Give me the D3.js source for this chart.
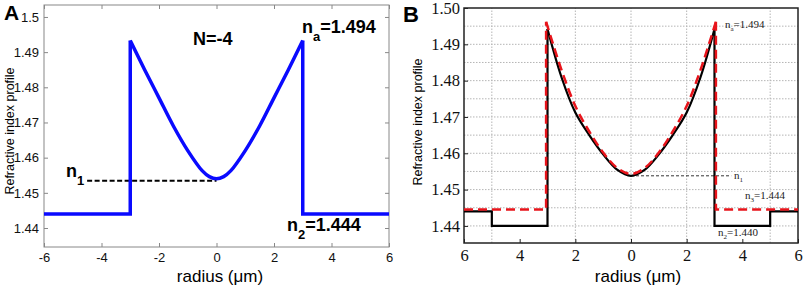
<!DOCTYPE html>
<html>
<head>
<meta charset="utf-8">
<script src="https://cdn.jsdelivr.net/npm/d3@7"></script>
<style>
  body { margin: 0; background: #fff; }
  svg { display: block; }
</style>
</head>
<body>
<svg id="chart" width="803" height="286"></svg>
<script>
// ---- data ----
const radiusTicks = [-6, -4, -2, 0, 2, 4, 6];
const indexTicksA = [1.44, 1.45, 1.46, 1.47, 1.48, 1.49, 1.50];
const indexTicksB = [1.44, 1.45, 1.46, 1.47, 1.48, 1.49, 1.50];
const gridIndexB = [1.44, 1.445, 1.45, 1.455, 1.46, 1.465, 1.47, 1.475, 1.48, 1.485, 1.49, 1.495];
const gridRadiusB = [-5, -2, 0, 2, 5];

// panel A (N=-4), core profile
const coreRadiusA = [-3, -2.5, -2, -1.5, -1, -0.5, -0.25, 0, 0.25, 0.5, 1, 1.5, 2, 2.5, 3];
const coreIndexA = [1.4933, 1.4850, 1.4770, 1.4690, 1.4620, 1.4563, 1.4546, 1.4540, 1.4546, 1.4563, 1.4620, 1.4690, 1.4770, 1.4850, 1.4933];
const cladLeftA = [[-6, 1.444], [-3, 1.444], [-3, 1.4933]];
const cladRightA = [[3, 1.4933], [3, 1.444], [6, 1.444]];
const n1LineA = [[-4.5, 1.4534], [0, 1.4534]];

// panel B, black solid (designed) and red dashed (fitted)
const coreRadius = [-3, -2.5, -2, -1.5, -1, -0.5, 0, 0.5, 1, 1.5, 2, 2.5, 3];
const coreIndexB = [1.4942, 1.4810, 1.4712, 1.4650, 1.4597, 1.4555, 1.4538, 1.4555, 1.4597, 1.4650, 1.4712, 1.4810, 1.4942];
const cladLeftB = [[-6, 1.444], [-5, 1.444], [-5, 1.440], [-3, 1.440], [-3, 1.4942]];
const cladRightB = [[3, 1.4942], [3, 1.440], [5, 1.440], [5, 1.444], [6, 1.444]];
const coreRadiusRed = [-3.05, -2.5, -2, -1.5, -1, -0.5, 0, 0.5, 1, 1.5, 2, 2.5, 3.05];
const coreIndexRed = [1.4962, 1.4830, 1.4730, 1.4660, 1.4602, 1.4560, 1.4543, 1.4560, 1.4602, 1.4660, 1.4730, 1.4830, 1.4962];
const cladLeftRed = [[-6, 1.4445], [-3.05, 1.4445], [-3.05, 1.4962]];
const cladRightRed = [[3.05, 1.4962], [3.05, 1.4445], [6, 1.4445]];
const n1LineB = [[0, 1.4538], [3.6, 1.4538]];

const svg = d3.select('#chart');
const sans = 'Liberation Sans, Arial, sans-serif';
const serif = 'Liberation Serif, Times New Roman, serif';
const smooth = d3.curveCatmullRom.alpha(0.5);

// ================= Panel A =================
const xA = d3.scaleLinear().domain([-6, 6]).range([44, 389]);
const yA = d3.scaleLinear().domain([1.4346, 1.5034]).range([247, 5]);
const gA = svg.append('g');

const lineA = d3.line().x(d => xA(d[0])).y(d => yA(d[1]));
const curveA = d3.line().x(d => xA(d[0])).y(d => yA(d[1])).curve(smooth);
const coreA = coreRadiusA.map((r, i) => [r, coreIndexA[i]]);

function styleAxisA(g) {
  g.select('.domain').remove();
  g.selectAll('line').attr('stroke', '#888');
  g.selectAll('text').attr('fill', '#111').style('font-family', sans).style('font-size', '13px');
}
gA.append('g').attr('transform', `translate(0,${yA.range()[0]})`)
  .call(d3.axisBottom(xA).tickValues(radiusTicks).tickSize(-4).tickPadding(6).tickFormat(d => String(d)))
  .call(styleAxisA);
gA.append('g').attr('transform', `translate(0,${yA.range()[1]})`)
  .call(d3.axisTop(xA).tickValues(radiusTicks).tickSize(-4).tickFormat(''))
  .call(styleAxisA);
gA.append('g').attr('transform', `translate(${xA.range()[0]},0)`)
  .call(d3.axisLeft(yA).tickValues(indexTicksA).tickSize(-4).tickPadding(5).tickFormat(d => d === 1.5 ? '1.5' : d3.format('.2f')(d)))
  .call(styleAxisA);
gA.append('g').attr('transform', `translate(${xA.range()[1]},0)`)
  .call(d3.axisRight(yA).tickValues(indexTicksA).tickSize(-4).tickFormat(''))
  .call(styleAxisA);
gA.append('rect').attr('x', xA.range()[0]).attr('y', yA.range()[1])
  .attr('width', xA.range()[1] - xA.range()[0]).attr('height', yA.range()[0] - yA.range()[1])
  .attr('fill', 'none').attr('stroke', '#888').attr('stroke-width', 1);

gA.append('path').datum(n1LineA).attr('d', lineA)
  .attr('fill', 'none').attr('stroke', '#000').attr('stroke-width', 2).attr('stroke-dasharray', '5,2.5');

[cladLeftA, cladRightA].forEach(seg => {
  gA.append('path').datum(seg).attr('d', lineA)
    .attr('fill', 'none').attr('stroke', '#0a0aff').attr('stroke-width', 3.5).attr('stroke-linejoin', 'miter');
});
gA.append('path').datum(coreA).attr('d', curveA)
  .attr('fill', 'none').attr('stroke', '#0a0aff').attr('stroke-width', 3.5);

gA.append('text').attr('x', 4).attr('y', 20).text('A')
  .style('font-family', sans).style('font-weight', 'bold').style('font-size', '21px');
gA.append('text').attr('transform', 'rotate(-90)').attr('x', -131).attr('y', 14)
  .attr('text-anchor', 'middle').text('Refractive index profile')
  .style('font-family', sans).style('font-size', '12.5px');
gA.append('text').attr('x', 220).attr('y', 282).attr('text-anchor', 'middle')
  .style('font-family', sans).style('font-size', '17px').text('radius (μm)');

function labelA(x, y, main, sub, rest) {
  const t = gA.append('text').attr('x', x).attr('y', y)
    .style('font-family', sans).style('font-weight', 'bold').style('font-size', '18px');
  t.append('tspan').text(main);
  t.append('tspan').attr('dy', 8).style('font-size', '13px').text(sub);
  if (rest) t.append('tspan').attr('dy', -8).text(rest);
}
gA.append('text').attr('x', 193).attr('y', 45).text('N=-4')
  .style('font-family', sans).style('font-weight', 'bold').style('font-size', '18px');
labelA(302, 33, 'n', 'a', '=1.494');
labelA(66, 177, 'n', '1', null);
labelA(287, 231, 'n', '2', '=1.444');

// ================= Panel B =================
const xB = d3.scaleLinear().domain([-6, 6]).range([464, 798]);
const yB = d3.scaleLinear().domain([1.4353, 1.50]).range([243, 8]);
const gB = svg.append('g');
const lineB = d3.line().x(d => xB(d[0])).y(d => yB(d[1]));
const curveB = d3.line().x(d => xB(d[0])).y(d => yB(d[1])).curve(smooth);

// dotted grid
gB.append('g').selectAll('line').data(gridIndexB).join('line')
  .attr('x1', xB.range()[0]).attr('x2', xB.range()[1])
  .attr('y1', d => yB(d)).attr('y2', d => yB(d))
  .attr('stroke', '#b5b5b5').attr('stroke-width', 1).attr('stroke-dasharray', '1.5,1.5');
gB.append('g').selectAll('line').data(gridRadiusB).join('line')
  .attr('x1', d => xB(d)).attr('x2', d => xB(d))
  .attr('y1', yB.range()[0]).attr('y2', yB.range()[1])
  .attr('stroke', '#b5b5b5').attr('stroke-width', 1).attr('stroke-dasharray', '1.5,1.5');

function styleAxisB(g) {
  g.select('.domain').remove();
  g.selectAll('line').attr('stroke', '#222');
  g.selectAll('text').attr('fill', '#111').style('font-family', serif).style('font-size', '16.5px');
}
gB.append('g').attr('transform', `translate(0,${yB.range()[0]})`)
  .call(d3.axisBottom(xB).tickValues(radiusTicks).tickSize(-4).tickPadding(6).tickFormat(d => Math.abs(d)))
  .call(styleAxisB);
gB.append('g').attr('transform', `translate(${xB.range()[0]},0)`)
  .call(d3.axisLeft(yB).tickValues(indexTicksB).tickSize(-4).tickPadding(4).tickFormat(d3.format('.2f')))
  .call(styleAxisB);
gB.append('rect').attr('x', xB.range()[0]).attr('y', yB.range()[1])
  .attr('width', xB.range()[1] - xB.range()[0]).attr('height', yB.range()[0] - yB.range()[1])
  .attr('fill', 'none').attr('stroke', '#222').attr('stroke-width', 1.5);

gB.append('path').datum(n1LineB).attr('d', lineB)
  .attr('fill', 'none').attr('stroke', '#000').attr('stroke-width', 0.8).attr('stroke-dasharray', '3,2');

const coreB = coreRadius.map((r, i) => [r, coreIndexB[i]]);
const coreRed = coreRadiusRed.map((r, i) => [r, coreIndexRed[i]]);

[cladLeftB, cladRightB].forEach(seg => {
  gB.append('path').datum(seg).attr('d', lineB)
    .attr('fill', 'none').attr('stroke', '#000').attr('stroke-width', 2.2);
});
gB.append('path').datum(coreB).attr('d', curveB)
  .attr('fill', 'none').attr('stroke', '#000').attr('stroke-width', 2.2);

[cladLeftRed, cladRightRed].forEach(seg => {
  gB.append('path').datum(seg).attr('d', lineB)
    .attr('fill', 'none').attr('stroke', '#e8141b').attr('stroke-width', 2.5).attr('stroke-dasharray', '9,5');
});
gB.append('path').datum(coreRed).attr('d', curveB)
  .attr('fill', 'none').attr('stroke', '#e8141b').attr('stroke-width', 2.5).attr('stroke-dasharray', '9,5');

gB.append('text').attr('x', 403).attr('y', 22).text('B')
  .style('font-family', sans).style('font-weight', 'bold').style('font-size', '22px');
gB.append('text').attr('transform', 'rotate(-90)').attr('x', -122).attr('y', 422)
  .attr('text-anchor', 'middle').text('Refractive index profile')
  .style('font-family', sans).style('font-size', '12.5px');
gB.append('text').attr('x', 638).attr('y', 282).attr('text-anchor', 'middle')
  .style('font-family', sans).style('font-size', '17px').text('radius (μm)');

function labelB(x, y, sub, rest) {
  const t = gB.append('text').attr('x', x).attr('y', y)
    .style('font-family', serif).style('font-size', '11px').attr('fill', '#222');
  t.append('tspan').text('n');
  t.append('tspan').attr('dy', 3).style('font-size', '7px').text(sub);
  if (rest) t.append('tspan').attr('dy', -3).text(rest);
}
labelB(725, 28, 'a', '=1.494');
labelB(734, 179, '1', null);
labelB(745, 199, '3', '=1.444');
labelB(718, 236, '2', '=1.440');
</script>
</body>
</html>
